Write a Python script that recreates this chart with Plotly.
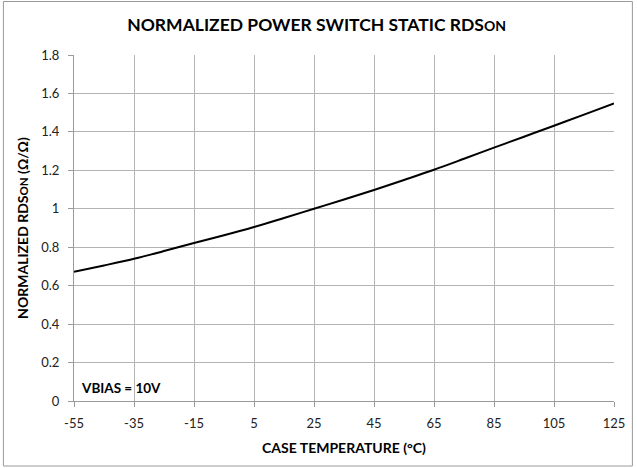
import plotly.graph_objects as go

temps = [-55, -45, -35, -25, -15, -5, 5, 15, 25, 35, 45, 55, 65, 75, 85, 95, 105, 115, 125]
rdson = [0.672, 0.705, 0.740, 0.780, 0.822, 0.862, 0.905, 0.952, 1.0, 1.048, 1.098,
         1.150, 1.203, 1.260, 1.318, 1.375, 1.432, 1.490, 1.548]
x_ticks = [-55, -35, -15, 5, 25, 45, 65, 85, 105, 125]
x_labels = ["-55", "-35", "-15", "5", "25", "45", "65", "85", "105", "125"]
y_ticks = [0, 0.2, 0.4, 0.6, 0.8, 1, 1.2, 1.4, 1.6, 1.8]
y_labels = ["0", "0.2", "0.4", "0.6", "0.8", "1", "1.2", "1.4", "1.6", "1.8"]

W, H = 637, 468
ML, MR, MT, MB = 74, 20, 55, 67
pw, ph = W - ML - MR, H - MT - MB

font = "Lato, 'Open Sans', sans-serif"


def px_x(px):
    return (px - ML) / pw


def px_y(py):
    return (H - MB - py) / ph


fig = go.Figure()
fig.add_trace(go.Scatter(
    x=temps, y=rdson, mode="lines",
    line=dict(color="black", width=2, shape="spline"),
    showlegend=False, hoverinfo="skip",
))

fig.add_annotation(
    x=-53.5, y=0.07, xref="x", yref="y", xanchor="left", yanchor="middle",
    text="<b>VBIAS = 10V</b>", showarrow=False,
    font=dict(family=font, size=13.5, color="black"),
)

# outer chart border
fig.add_shape(
    type="rect", xref="paper", yref="paper",
    x0=px_x(3), x1=px_x(635.5), y0=px_y(466), y1=px_y(1.5),
    line=dict(color="#9a9a9a", width=1), layer="below",
)

fig.update_layout(
    width=W, height=H,
    margin=dict(l=ML, r=MR, t=MT, b=MB),
    paper_bgcolor="white", plot_bgcolor="white",
    font=dict(family=font, size=13, color="#222"),
    title=dict(
        text="<b>NORMALIZED POWER SWITCH STATIC RDS<span style='font-size:14px'>ON</span></b>",
        x=px_x(318), xanchor="center", xref="paper", y=1 - 25 / H, yanchor="middle",
        font=dict(family=font, size=17.5, color="black"),
    ),
)
fig.update_xaxes(
    range=[-55, 125], tickvals=x_ticks, ticktext=x_labels,
    showgrid=True, gridcolor="#b4b4b4", gridwidth=1,
    showline=True, linecolor="#9a9a9a", ticks="outside", ticklen=5, tickcolor="#9a9a9a",
    zeroline=False, tickfont=dict(size=13), ticklabelstandoff=5,
    title=dict(text="<b>CASE TEMPERATURE (°C)</b>", font=dict(size=14, color="black"), standoff=13),
)
fig.update_yaxes(
    range=[0, 1.8], tickvals=y_ticks, ticktext=y_labels,
    showgrid=True, gridcolor="#b4b4b4", gridwidth=1,
    showline=True, linecolor="#9a9a9a", ticks="outside", ticklen=5, tickcolor="#9a9a9a",
    zeroline=False, tickfont=dict(size=13), ticklabelstandoff=6,
    title=dict(text="<b>NORMALIZED RDS<span style='font-size:11.5px'>ON</span> (Ω/Ω)</b>",
               font=dict(size=14, color="black"), standoff=9),
)

fig.write_html("out.html", config={"displayModeBar": False},
               post_script="document.body.style.margin='0';document.body.style.overflow='hidden';")
